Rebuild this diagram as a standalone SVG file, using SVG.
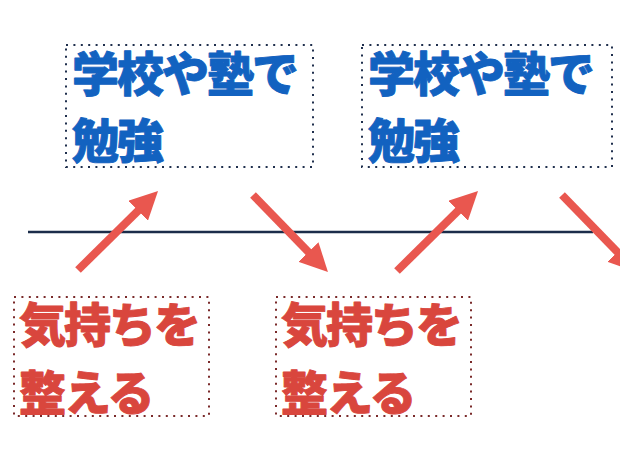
<svg xmlns="http://www.w3.org/2000/svg" width="620" height="465" viewBox="0 0 620 465">
<style>
.box-b{fill:none;stroke:#1f2f4d;stroke-width:2;stroke-dasharray:2 5.4}
.box-r{fill:none;stroke:#7a2a2a;stroke-width:2;stroke-dasharray:2 5.4}
.t{font-family:"Noto Sans CJK JP","Noto Sans CJK SC",sans-serif;font-weight:900;font-size:47px;letter-spacing:-2px;stroke-width:0.9px;stroke-linejoin:round}
.tb{fill:#1262c0;stroke:#1262c0}
.tr{fill:#d9463d;stroke:#d9463d}
.arr{stroke:#e9574f;stroke-width:8;fill:none;marker-end:url(#ah)}
</style>
<defs>
<marker id="ah" markerUnits="userSpaceOnUse" markerWidth="28" markerHeight="28" viewBox="0 0 28 28" refX="8" refY="14" orient="auto">
<path d="M0,0 L28,14 L0,28 z" fill="#e9574f"/>
</marker>
</defs>
<rect width="620" height="465" fill="#fff"/>
<g id="connectors">
<line x1="28" y1="232" x2="593" y2="232" stroke="#1b2d4a" stroke-width="2.5"/>
<line class="arr" x1="78" y1="270" x2="143.8" y2="205.1"/>
<line class="arr" x1="253" y1="195" x2="314" y2="257.7"/>
<line class="arr" x1="397" y1="271" x2="463.8" y2="205.1"/>
<line class="arr" x1="562" y1="195" x2="623" y2="257.7"/>
</g>
<g id="study1">
<rect class="box-b" x="66" y="45" width="247" height="122"/>
<text class="t tb" x="72" y="91">学校や塾で</text>
<text class="t tb" x="72" y="158">勉強</text>
</g>
<g id="study2">
<rect class="box-b" x="362" y="45" width="250" height="122"/>
<text class="t tb" x="368" y="91">学校や塾で</text>
<text class="t tb" x="368" y="158">勉強</text>
</g>
<g id="mood1">
<rect class="box-r" x="14" y="297" width="195" height="119"/>
<text class="t tr" x="19" y="342">気持ちを</text>
<text class="t tr" x="19" y="410">整える</text>
</g>
<g id="mood2">
<rect class="box-r" x="276" y="297" width="195" height="119"/>
<text class="t tr" x="281" y="342">気持ちを</text>
<text class="t tr" x="281" y="410">整える</text>
</g>
</svg>
